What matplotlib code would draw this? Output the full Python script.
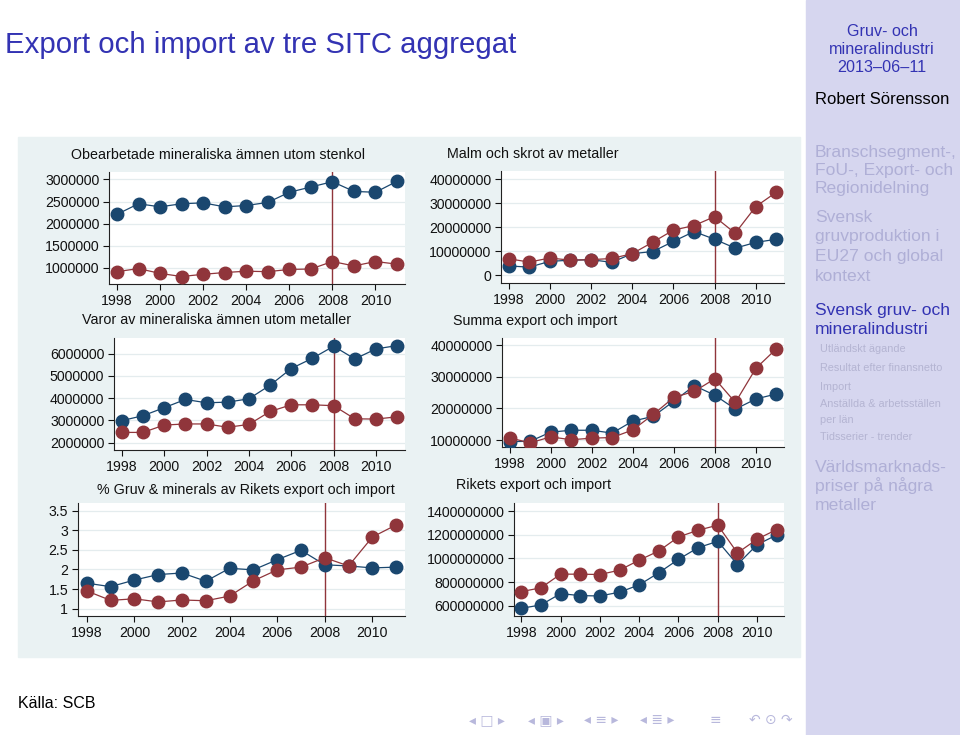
import matplotlib.pyplot as plt
from matplotlib.patches import Rectangle
from matplotlib.ticker import FuncFormatter

plt.rcParams['font.family'] = ['Liberation Sans', 'DejaVu Sans']

ar = list(range(1998, 2012))

# Obearbetade mineraliska ämnen utom stenkol
obearb_bla = [2.21e6, 2.45e6, 2.38e6, 2.45e6, 2.47e6, 2.38e6, 2.41e6, 2.48e6, 2.71e6, 2.83e6, 2.95e6, 2.73e6, 2.71e6, 2.96e6]
obearb_rod = [0.91e6, 0.98e6, 0.87e6, 0.80e6, 0.85e6, 0.89e6, 0.92e6, 0.91e6, 0.96e6, 0.97e6, 1.14e6, 1.04e6, 1.14e6, 1.08e6]

# Varor av mineraliska ämnen utom metaller
varor_bla = [2.99e6, 3.21e6, 3.57e6, 3.94e6, 3.79e6, 3.82e6, 3.97e6, 4.58e6, 5.33e6, 5.79e6, 6.33e6, 5.76e6, 6.21e6, 6.36e6]
varor_rod = [2.46e6, 2.46e6, 2.79e6, 2.84e6, 2.84e6, 2.69e6, 2.82e6, 3.40e6, 3.70e6, 3.70e6, 3.66e6, 3.07e6, 3.06e6, 3.16e6]

# % Gruv & minerals av Rikets export och import
andel_bla = [1.65, 1.56, 1.73, 1.87, 1.91, 1.70, 2.03, 1.99, 2.25, 2.49, 2.12, 2.09, 2.04, 2.06]
andel_rod = [1.45, 1.21, 1.25, 1.17, 1.22, 1.20, 1.32, 1.71, 1.99, 2.06, 2.30, 2.09, 2.83, 3.14]

# Malm och skrot av metaller
malm_bla = [3.9e6, 3.4e6, 5.8e6, 6.3e6, 6.5e6, 5.4e6, 9.0e6, 9.9e6, 14.1e6, 18.2e6, 15.0e6, 11.3e6, 13.7e6, 15.0e6]
malm_rod = [6.9e6, 5.5e6, 7.2e6, 6.3e6, 6.5e6, 7.0e6, 9.0e6, 13.8e6, 18.8e6, 20.7e6, 24.4e6, 17.5e6, 28.6e6, 34.6e6]

# Summa export och import
summa_bla = [9.5e6, 9.6e6, 12.5e6, 13.1e6, 13.1e6, 12.2e6, 16.0e6, 17.5e6, 22.3e6, 27.2e6, 24.2e6, 19.8e6, 23.0e6, 24.6e6]
summa_rod = [10.7e6, 9.1e6, 11.0e6, 10.1e6, 10.6e6, 10.8e6, 13.2e6, 18.1e6, 23.5e6, 25.4e6, 29.4e6, 21.9e6, 32.7e6, 38.9e6]

# Rikets export och import
riket_bla = [577e6, 606e6, 702e6, 685e6, 682e6, 714e6, 776e6, 879e6, 993e6, 1092e6, 1146e6, 949e6, 1117e6, 1200e6]
riket_rod = [719e6, 751e6, 867e6, 867e6, 864e6, 901e6, 986e6, 1064e6, 1183e6, 1240e6, 1283e6, 1047e6, 1164e6, 1246e6]

titlar = ["Obearbetade mineraliska ämnen utom stenkol",
          "Varor av mineraliska ämnen utom metaller",
          "% Gruv & minerals av Rikets export och import",
          "Malm och skrot av metaller",
          "Summa export och import",
          "Rikets export och import"]
serier = [(obearb_bla, obearb_rod), (varor_bla, varor_rod), (andel_bla, andel_rod),
          (malm_bla, malm_rod), (summa_bla, summa_rod), (riket_bla, riket_rod)]
yticks = [[1e6, 1.5e6, 2e6, 2.5e6, 3e6],
          [2e6, 3e6, 4e6, 5e6, 6e6],
          [1, 1.5, 2, 2.5, 3, 3.5],
          [0, 10e6, 20e6, 30e6, 40e6],
          [10e6, 20e6, 30e6, 40e6],
          [600e6, 800e6, 1000e6, 1200e6, 1400e6]]
xticks = [1998, 2000, 2002, 2004, 2006, 2008, 2010]

# layout in pixels: (left, top, right, bottom), ylim, title centre (x, y)
lagen = [((109, 172, 405, 284), (0.63e6, 3.17e6), (218, 155)),
         ((114, 338, 405, 450), (1.67e6, 6.70e6), (217, 320)),
         ((78, 503, 405, 616), (0.81, 3.70), (246, 490)),
         ((501, 171, 784, 283), (-3.2e6, 43.4e6), (533, 154)),
         ((502, 338, 784, 447), (7.8e6, 42.3e6), (535, 321)),
         ((514, 503, 784, 616), (512e6, 1471e6), (534, 485))]

W, H = 960, 735
navy = '#1a476f'
maroon = '#90353b'
bakgrund = '#eaf2f3'
bla = '#3333b3'
blek = '#afafd6'

fig = plt.figure(figsize=(W / 100, H / 100), dpi=100)

def fx(x):
    return x / W

def fy(y):
    return 1 - y / H

# sidopanel och grå bakgrund
fig.add_artist(Rectangle((fx(806), 0), fx(W - 806), 1, transform=fig.transFigure, color='#d6d6ef', zorder=0))
fig.add_artist(Rectangle((fx(18), fy(657)), fx(800 - 18), (657 - 137) / H, transform=fig.transFigure, color=bakgrund, zorder=0))

fmt = FuncFormatter(lambda v, p: ('%d' % v) if v == int(v) else ('%g' % v))

for i in range(6):
    (l, t, r, b), ylim, (tx, ty) = lagen[i]
    ax = fig.add_axes([fx(l), fy(b), fx(r - l), (b - t) / H])
    ax.set_facecolor('white')
    b_ser, r_ser = serier[i]
    ax.plot(ar, b_ser, 'o-', color=navy, markersize=9, linewidth=0.9, zorder=3)
    ax.plot(ar, r_ser, 'o-', color=maroon, markersize=9, linewidth=0.9, zorder=4)
    ax.axvline(2008, color=maroon, linewidth=1.0, zorder=2)
    ax.set_xlim(1997.63, 2011.37)
    ax.set_ylim(*ylim)
    ax.set_xticks(xticks)
    ax.set_yticks(yticks[i])
    ax.yaxis.set_major_formatter(fmt)
    ax.grid(axis='y', color='#e4ecee', linewidth=0.9, zorder=1)
    ax.set_axisbelow(True)
    for s in ['top', 'right']:
        ax.spines[s].set_visible(False)
    for s in ['left', 'bottom']:
        ax.spines[s].set_color('#222222')
        ax.spines[s].set_linewidth(0.8)
    ax.tick_params(length=4, width=0.8, pad=3, labelsize=10.2, colors='#111111')
    fig.text(fx(tx), fy(ty), titlar[i], ha='center', va='center', fontsize=10.3, color='#111111')

# rubrik
fig.text(fx(5), fy(45), "Export och import av tre SITC aggregat", fontsize=21.2, color=bla, va='center')
fig.text(fx(18), fy(703), "Källa: SCB", fontsize=11.5, color='black', va='center')

# sidopanelens text
fig.text(fx(882), fy(32), "Gruv- och", fontsize=11.6, color=bla, ha='center', va='center')
fig.text(fx(882), fy(50), "mineralindustri", fontsize=11.6, color=bla, ha='center', va='center')
fig.text(fx(882), fy(68), "2013–06–11", fontsize=11.6, color=bla, ha='center', va='center')
fig.text(fx(882), fy(100), "Robert Sörensson", fontsize=12, color='black', ha='center', va='center')

sektioner = [("Branschsegment-,", 152, blek), ("FoU-, Export- och", 170, blek), ("Regionidelning", 188, blek),
             ("Svensk", 218, blek), ("gruvproduktion i", 237, blek), ("EU27 och global", 256, blek), ("kontext", 276, blek),
             ("Svensk gruv- och", 310, bla), ("mineralindustri", 329, bla),
             ("Världsmarknads-", 467, blek), ("priser på några", 486, blek), ("metaller", 505, blek)]
for txt, y, c in sektioner:
    fig.text(fx(815), fy(y), txt, fontsize=12.6, color=c, va='center')

undersektioner = [("Utländskt ägande", 349), ("Resultat efter finansnetto", 368), ("Import", 387),
                  ("Anställda & arbetsställen", 404), ("per län", 420), ("Tidsserier - trender", 437)]
for txt, y in undersektioner:
    fig.text(fx(820), fy(y), txt, fontsize=7.8, color='#b4b4d2', va='center')

# navigeringssymboler
nav = [("◂ □ ▸", 487), ("◂ ▣ ▸", 546), ("◂ ≡ ▸", 601), ("◂ ≣ ▸", 657), ("≡", 715), ("↶ ⊙ ↷", 771)]
for txt, x in nav:
    fig.text(fx(x), fy(720), txt, fontsize=10, color='#b8b8dc', ha='center', va='center', family='DejaVu Sans')

fig.savefig('out.png', dpi=100)
